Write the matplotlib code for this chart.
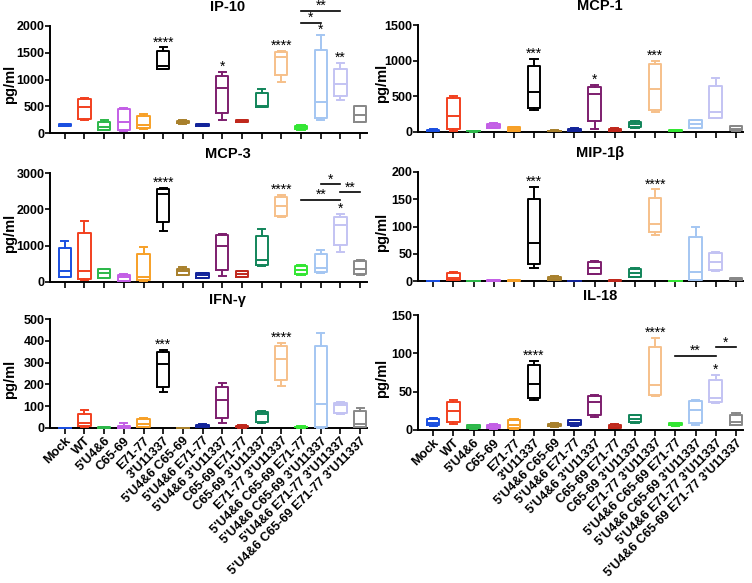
import numpy as np
import matplotlib
matplotlib.use("Agg")
import matplotlib.pyplot as plt

plt.rcParams['font.family'] = ['Liberation Sans', 'DejaVu Sans']
plt.rcParams['font.weight'] = 'bold'

groups = ["Mock", "WT", "5'U4&6", "C65-69", "E71-77", "3'U11337",
          "5'U4&6 C65-69", "5'U4&6 E71-77", "5'U4&6 3'U11337",
          "C65-69 E71-77", "C65-69 3'U11337", "E71-77 3'U11337",
          "5'U4&6 C65-69 E71-77", "5'U4&6 C65-69 3'U11337",
          "5'U4&6 E71-77 3'U11337", "5'U4&6 C65-69 E71-77 3'U11337"]
colors = ['#1a4fe0', '#f2401f', '#2db84a', '#c35ee6', '#f7a027', '#000000',
          '#a8802c', '#12249a', '#7d1e6e', '#c0281c', '#12855a', '#f6c08a',
          '#33e633', '#a4c6f2', '#c3c3f3', '#888888']

# box stats per group: (min, q1, median, q3, max)
ip10 = [(130, 140, 150, 160, 170), (250, 270, 490, 640, 650), (50, 62, 105, 205, 236),
        (45, 55, 210, 440, 460), (80, 90, 145, 320, 355), (1190, 1200, 1260, 1540, 1600),
        (170, 180, 205, 230, 240), (125, 135, 150, 165, 175), (243, 380, 847, 1071, 1140),
        (200, 210, 225, 235, 240), (486, 490, 500, 748, 822), (959, 1084, 1428, 1508, 1533),
        (60, 70, 110, 140, 150), (243, 286, 580, 1551, 1832), (617, 691, 910, 1196, 1302),
        (200, 210, 336, 500, 510)]
mcp1 = [(10, 15, 25, 35, 40), (20, 40, 230, 470, 510), (5, 8, 12, 15, 18),
        (50, 60, 90, 110, 120), (10, 15, 45, 65, 75), (303, 335, 555, 932, 1030),
        (10, 12, 15, 20, 22), (15, 20, 35, 45, 50), (42, 154, 527, 634, 657),
        (15, 20, 30, 45, 50), (60, 70, 110, 140, 150), (284, 312, 606, 950, 1000),
        (15, 20, 25, 30, 35), (50, 56, 112, 170, 175), (190, 200, 275, 645, 760),
        (20, 23, 47, 80, 88)]
mcp3 = [(130, 140, 290, 930, 1130), (60, 90, 300, 1350, 1690), (100, 110, 250, 350, 360),
        (15, 30, 130, 200, 220), (40, 60, 130, 770, 950), (1410, 1640, 2420, 2570, 2600),
        (180, 190, 300, 370, 400), (100, 110, 180, 240, 250), (175, 340, 1000, 1280, 1320),
        (130, 140, 220, 290, 300), (450, 470, 610, 1270, 1470), (1780, 1810, 2100, 2330, 2385),
        (200, 210, 340, 440, 460), (260, 280, 390, 780, 890), (830, 1010, 1560, 1800, 1870),
        (200, 210, 360, 570, 600)]
mip1b = [(0, 0, 0, 0, 0), (1, 2, 6, 15, 17), (0, 0, 0, 0, 0), (0, 0.5, 1, 2, 2.5),
         (0, 0, 0.5, 1, 1), (24, 32, 70, 150, 173), (1, 2, 4, 7, 9), (0, 0, 0, 0, 0),
         (12, 13, 24, 34, 37), (0, 0, 0.5, 1, 1), (7, 8, 15, 22, 23), (85, 89, 105, 152, 168),
         (0, 0, 0, 0, 0), (1, 2, 16, 80, 100), (19, 20, 35, 52, 53), (1, 2, 3, 5, 6)]
ifng = [(0, 0, 0, 0, 0), (5, 8, 23, 66, 82), (1, 1, 2, 3, 3), (1, 2, 7, 10, 25),
        (3, 5, 17, 43, 48), (163, 188, 292, 348, 358), (0, 0, 0, 1, 1), (5, 6, 12, 16, 18),
        (23, 46, 129, 186, 205), (2, 3, 7, 10, 12), (23, 28, 63, 74, 76), (194, 220, 315, 377, 392),
        (2, 3, 5, 6, 7), (2, 5, 109, 374, 434), (65, 69, 105, 115, 117), (3, 5, 20, 78, 92)]
il18 = [(5, 6, 9, 15, 16), (8, 10, 25, 36, 39), (1, 2, 4, 6, 7), (1, 2, 5, 7, 8),
        (1, 3, 6, 13, 15), (39, 42, 60, 85, 90), (4, 5, 7, 8, 9), (5, 6, 9, 12.5, 13),
        (17, 19, 36, 45, 46), (2, 3, 4, 7, 8), (9, 10, 15, 19, 20), (45, 46, 59, 108, 120),
        (5, 6, 7, 8.5, 9), (7, 9, 26, 38, 39), (35, 36, 42, 65, 72), (6, 7, 11, 19, 22)]

# significance vs control (group index -> label)
ip10_stars = {5: '****', 8: '*', 11: '****', 13: '*', 14: '**'}
mcp1_stars = {5: '***', 8: '*', 11: '***'}
mcp3_stars = {5: '****', 11: '****', 14: '*'}
mip1b_stars = {5: '***', 11: '****'}
ifng_stars = {5: '***', 11: '****'}
il18_stars = {5: '****', 11: '****', 14: '*'}

# brackets: (group a, group b, level, label)
ip10_brackets = [(12, 13, 2060, '*'), (12, 14, 2285, '**')]
mcp3_brackets = [(13, 14, 2700, '*'), (12, 14, 2270, '**'), (14, 15, 2470, '**')]
il18_brackets = [(12, 14, 97, '**'), (14, 15, 108, '*')]

panels = [
    ('IP-10', ip10, ip10_stars, ip10_brackets, [0, 500, 1000, 1500, 2000], [50, 26, 367, 133]),
    ('MCP-1', mcp1, mcp1_stars, [], [0, 500, 1000, 1500], [418, 25, 743, 132]),
    ('MCP-3', mcp3, mcp3_stars, mcp3_brackets, [0, 1000, 2000, 3000], [50, 173, 367, 282]),
    ('MIP-1\u03b2', mip1b, mip1b_stars, [], [0, 50, 100, 150, 200], [418, 172, 743, 281]),
    ('IFN-\u03b3', ifng, ifng_stars, [], [0, 100, 200, 300, 400, 500], [50, 319, 367, 428]),
    ('IL-18', il18, il18_stars, il18_brackets, [0, 50, 100, 150], [418, 315, 743, 430]),
]

W, H = 752, 583
fig = plt.figure(figsize=(W / 100, H / 100), dpi=100)
pos = np.arange(1, len(groups) + 1)

for k, (title, stats, stars, brackets, yt, box) in enumerate(panels):
    x0, y0, x1, y1 = box
    ax = fig.add_axes([x0 / W, 1 - y1 / H, (x1 - x0) / W, (y1 - y0) / H])
    bstats = [dict(whislo=s[0], q1=s[1], med=s[2], q3=s[3], whishi=s[4], fliers=[]) for s in stats]
    art = ax.bxp(bstats, positions=pos, widths=0.62, capwidths=0.36, showfliers=False,
                 manage_ticks=False)
    for i, c in enumerate(colors):
        for a in [art['boxes'][i], art['medians'][i]] + art['whiskers'][2*i:2*i+2] + art['caps'][2*i:2*i+2]:
            a.set_color(c)
            a.set_linewidth(1.4)
            a.set_clip_on(False)
            a.set_zorder(4)
    ymax = yt[-1]
    ax.set_ylim(0, ymax)
    ax.set_xlim(0.25, 16.35)
    ax.set_yticks(yt)
    ax.set_xticks(pos)
    if k >= 4:
        ax.set_xticklabels(groups, rotation=45, ha='right', rotation_mode='anchor',
                           fontsize=9.1, fontweight='bold')
    else:
        ax.set_xticklabels([])
    for lab in ax.get_yticklabels():
        lab.set_fontsize(9)
        lab.set_fontweight('bold')
    ax.set_ylabel('pg/ml', fontsize=10.5, fontweight='bold')
    ax.yaxis.set_label_coords(-0.105 if x0 < 100 else -0.088, 0.45)
    ax.set_title(title, fontsize=10.5, fontweight='bold', x=0.56, pad=11)
    for side in ['top', 'right']:
        ax.spines[side].set_visible(False)
    for side in ['left', 'bottom']:
        ax.spines[side].set_linewidth(1.4)
    ax.tick_params(axis='y', direction='out', length=3.5, width=1.2, pad=0.5)
    ax.tick_params(axis='x', direction='out', length=4, width=1.2, pad=1)

    for i, lab in stars.items():
        ax.text(pos[i], stats[i][4] + 0.01 * ymax, lab, ha='center', va='baseline',
                fontsize=10, fontweight='normal', clip_on=False)
    for a, b, lvl, lab in brackets:
        ax.plot([pos[a], pos[b]], [lvl, lvl], color='black', lw=1.2, clip_on=False)
        ax.text((pos[a] + pos[b]) / 2, lvl + 0.005 * ymax, lab, ha='center', va='baseline',
                fontsize=10, fontweight='normal', clip_on=False)

fig.savefig('out.png', dpi=100)
